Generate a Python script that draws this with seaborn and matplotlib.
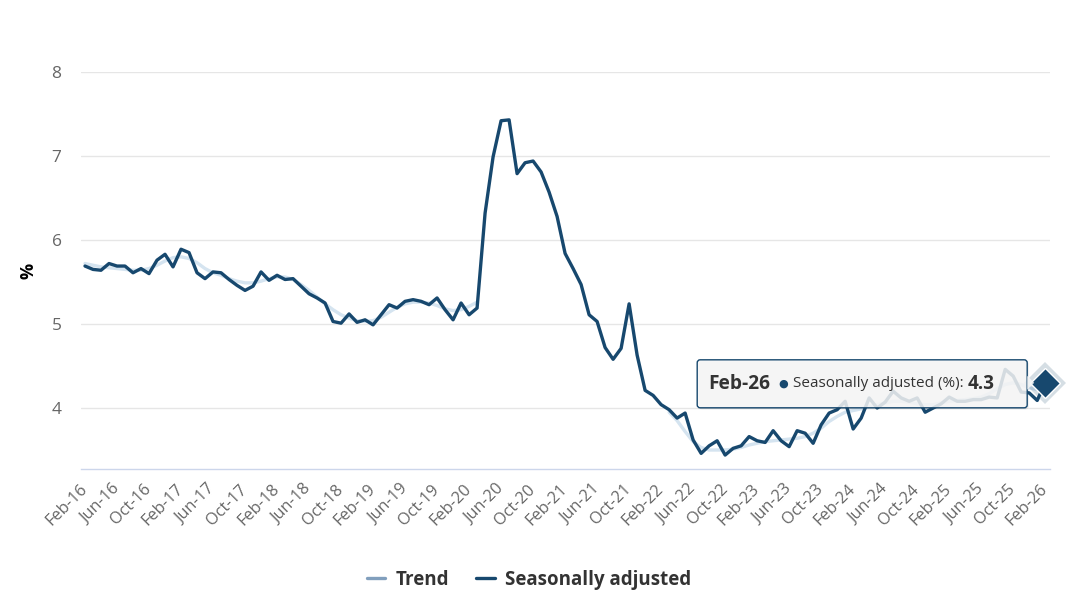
import pandas as pd
import numpy as np
import matplotlib
matplotlib.use('Agg')
import matplotlib.pyplot as plt
import seaborn as sns
from matplotlib.lines import Line2D
from matplotlib.patches import FancyBboxPatch, Polygon
from matplotlib.transforms import IdentityTransform

# Monthly unemployment rate (%), Feb-16 to Feb-26
months = pd.date_range('2016-02-01', '2026-02-01', freq='MS').strftime('%b-%y').tolist()

seasonally_adjusted = [
    5.69, 5.65, 5.64, 5.72, 5.69, 5.69, 5.61, 5.66, 5.60, 5.76, 5.83,              # 2016
    5.68, 5.89, 5.85, 5.61, 5.54, 5.62, 5.61, 5.53, 5.46, 5.40, 5.45, 5.62,        # 2017
    5.52, 5.58, 5.53, 5.54, 5.45, 5.36, 5.31, 5.25, 5.03, 5.01, 5.12, 5.02,        # 2018
    5.05, 4.99, 5.11, 5.23, 5.19, 5.27, 5.29, 5.27, 5.23, 5.31, 5.17, 5.05,        # 2019
    5.25, 5.11, 5.19, 6.32, 6.99, 7.42, 7.43, 6.79, 6.92, 6.94, 6.81, 6.57,        # 2020
    6.28, 5.84, 5.66, 5.47, 5.11, 5.03, 4.72, 4.58, 4.71, 5.24, 4.63, 4.21,        # 2021
    4.15, 4.04, 3.98, 3.88, 3.94, 3.62, 3.46, 3.55, 3.61, 3.44, 3.52, 3.55,        # 2022
    3.66, 3.61, 3.59, 3.73, 3.61, 3.54, 3.73, 3.70, 3.58, 3.80, 3.94, 3.98,        # 2023
    4.08, 3.75, 3.88, 4.12, 4.00, 4.07, 4.20, 4.12, 4.08, 4.12, 3.95, 4.00,        # 2024
    4.05, 4.13, 4.08, 4.08, 4.10, 4.10, 4.13, 4.12, 4.46, 4.38, 4.19, 4.18,        # 2025
    4.09, 4.30,                                                                    # 2026
]

# trend was suspended Apr-20 to Feb-22
trend_pre = [
    5.72, 5.70, 5.68, 5.67, 5.66, 5.65, 5.64, 5.64, 5.66, 5.70, 5.75,
    5.79, 5.80, 5.78, 5.73, 5.66, 5.61, 5.58, 5.54, 5.51, 5.49, 5.49, 5.51,
    5.54, 5.56, 5.56, 5.53, 5.47, 5.40, 5.32, 5.24, 5.17, 5.11, 5.07, 5.04,
    5.03, 5.04, 5.08, 5.14, 5.20, 5.24, 5.26, 5.26, 5.25, 5.22, 5.18, 5.16,
    5.17, 5.21, 5.26,
]
trend_post = [
    3.95, 3.85, 3.72, 3.60, 3.53, 3.50, 3.50, 3.50, 3.51, 3.53,
    3.56, 3.58, 3.60, 3.61, 3.62, 3.63, 3.64, 3.66, 3.70, 3.76, 3.84, 3.90,
    3.95, 3.97, 3.99, 4.02, 4.04, 4.06, 4.08, 4.08, 4.07, 4.05, 4.04, 4.04,
    4.06, 4.08, 4.09, 4.10, 4.11, 4.13, 4.17, 4.23, 4.28, 4.30, 4.28, 4.24,
    4.22, 4.22,
]

n = len(months)
idx = np.arange(n)
sa_df = pd.DataFrame({'idx': idx, 'rate': seasonally_adjusted})
tr_df = pd.concat([
    pd.DataFrame({'idx': idx[:len(trend_pre)], 'rate': trend_pre, 'seg': 0}),
    pd.DataFrame({'idx': idx[n - len(trend_post):], 'rate': trend_post, 'seg': 1}),
])

DARK = '#17486e'
TREND_FADED = '#d5e4f0'
TREND_LEGEND = '#819fbd'

sns.set_style('white')
plt.rcParams['font.family'] = ['Open Sans', 'DejaVu Sans']

fig = plt.figure(figsize=(10.71, 6.15), dpi=100)
ax = fig.add_axes([81 / 1071, 1 - 469 / 615, (1050 - 81) / 1071, (469 - 72) / 615])

sns.lineplot(data=tr_df, x='idx', y='rate', units='seg', estimator=None,
             color=TREND_FADED, lw=2.4, ax=ax, zorder=2)
sns.lineplot(data=sa_df, x='idx', y='rate', color=DARK, lw=2.4, ax=ax, zorder=3)

# hovered point
last_x, last_y = idx[-1], seasonally_adjusted[-1]
ax.plot(last_x, last_y, marker='D', ms=21, color=DARK, alpha=0.18, mew=0, zorder=4, clip_on=False)
ax.plot(last_x, last_y, marker='D', ms=15, color=DARK, mec='white', mew=1, zorder=5, clip_on=False)

ax.set_xlim(-0.5, n - 1 + 0.6)
ax.set_ylim(3.274, 8.0)
ax.set_yticks([4, 5, 6, 7, 8])
ax.set_xticks(idx[::4])
ax.set_xticklabels(months[::4], rotation=45, ha='right', va='center', rotation_mode='anchor')
ax.tick_params(axis='x', length=0, pad=13, labelsize=11.8, labelcolor='#666666')
ax.tick_params(axis='y', length=0, pad=14, labelsize=12.5, labelcolor='#666666')

ax.yaxis.grid(True, color='#e6e6e6', lw=1)
ax.set_axisbelow(True)
for side in ['top', 'left', 'right']:
    ax.spines[side].set_visible(False)
ax.spines['bottom'].set_color('#ccd6eb')
ax.spines['bottom'].set_linewidth(1)

ax.set_xlabel('')
ax.set_ylabel('%', fontweight='bold', color='black', fontsize=13)
ax.yaxis.set_label_coords(-0.045, 0.5)

# legend
handles = [Line2D([], [], color=TREND_LEGEND, lw=2.4), Line2D([], [], color=DARK, lw=2.4)]
leg = fig.legend(handles, ['Trend', 'Seasonally adjusted'], loc='center', ncol=2,
                 bbox_to_anchor=(0.494, 1 - 580 / 615), frameon=False, handlelength=1.0,
                 handletextpad=0.55, columnspacing=1.45,
                 prop={'size': 13.5, 'weight': 'bold'})
for t in leg.get_texts():
    t.set_color('#333333')

# tooltip
px, py = ax.transData.transform((last_x, last_y))
ident = IdentityTransform()
bx0, by0, bw, bh = px - 348, py - 25, 330, 48
shadow = FancyBboxPatch((bx0 + 1.5, by0 - 1.5), bw, bh, boxstyle='round,pad=0,rounding_size=3',
                        transform=ident, fc=(0, 0, 0, 0.08), ec='none', zorder=6)
box = FancyBboxPatch((bx0, by0), bw, bh, boxstyle='round,pad=0,rounding_size=3',
                     transform=ident, fc=(0.969, 0.969, 0.969, 0.85), ec=DARK, lw=1, zorder=7)
fig.add_artist(shadow)
fig.add_artist(box)
pointer = Polygon([[bx0 + bw, py + 7], [bx0 + bw + 7, py], [bx0 + bw, py - 7]], closed=True,
                  transform=ident, fc=(0.969, 0.969, 0.969, 0.85), ec='none', zorder=7)
fig.add_artist(pointer)

renderer = fig.canvas.get_renderer()
tx, ty = bx0 + 11, py - 1
pieces = [('Feb-26', 'bold', '#333333', 13.8, 8),
          ('\u25cf', 'normal', DARK, 8, 5),
          ('Seasonally adjusted (%): ', 'normal', '#333333', 11, 0),
          ('4.3', 'bold', '#333333', 13.5, 0)]
for s, w, c, fs, gap in pieces:
    t = fig.text(tx, ty, s, transform=ident, fontweight=w, color=c, fontsize=fs,
                 va='center', ha='left', zorder=8)
    tx = t.get_window_extent(renderer).x1 + gap

fig.savefig('out.png', dpi=100)
